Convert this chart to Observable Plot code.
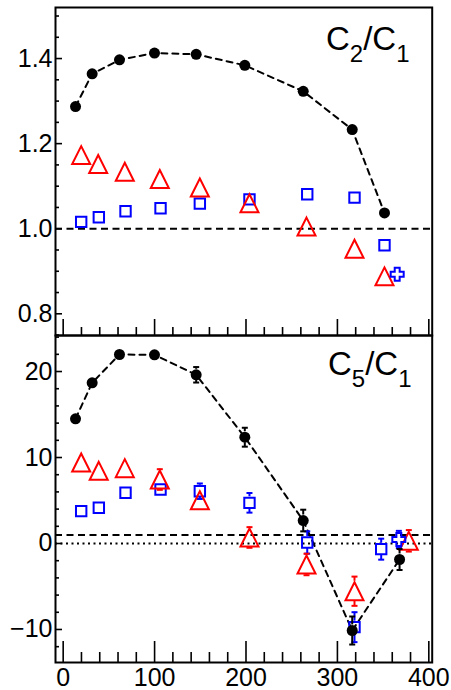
<!DOCTYPE html>
<html><head><meta charset="utf-8">
<script src="https://cdn.jsdelivr.net/npm/d3@7"></script>
<script src="https://cdn.jsdelivr.net/npm/@observablehq/plot@0.6"></script>
<style>
html,body{margin:0;padding:0;background:#fff;}
#chart{position:relative;width:451px;height:690px;overflow:hidden;background:#fff;}
#chart svg{position:absolute;left:0;}
</style></head><body><div id="chart"></div>
<script>
// ---------- data: top panel (C2/C1) ----------
const xBlackTop = [13.5, 31.7, 61.6, 99.9, 145.5, 198.7, 262.6, 316.2, 351.5];
const yBlackTop = [1.287, 1.364, 1.397, 1.413, 1.410, 1.384, 1.323, 1.233, 1.037];
const xRedTop   = [19.7, 38.3, 67.4, 105.7, 149.5, 203.8, 266.2, 318.7, 351.5];
const yRedTop   = [1.173, 1.152, 1.134, 1.117, 1.097, 1.060, 1.005, 0.953, 0.888];
const xBlueTop  = [19.7, 39.0, 68.2, 106.5, 149.5, 203.8, 267.0, 318.7, 351.5];
const yBlueTop  = [1.016, 1.027, 1.041, 1.048, 1.059, 1.069, 1.081, 1.073, 0.961];
const xCrossTop = [365.4];
const yCrossTop = [0.893];

// ---------- data: bottom panel (C5/C1) ----------
const xBlackBot = [13.5, 31.7, 61.6, 99.9, 145.5, 198.7, 262.6, 316.2, 368.0];
const yBlackBot = [14.5, 18.69, 21.98, 21.94, 19.62, 12.36, 2.67, -10.12, -1.86];
const eBlackBot = [0, 0, 0, 0, 0.9, 1.1, 1.26, 1.63, 1.22];
const xRedBot   = [19.7, 38.9, 67.4, 105.7, 149.5, 203.8, 266.2, 318.7, 378.1];
const yRedBot   = [9.42, 8.45, 8.76, 7.44, 5.03, 0.70, -2.44, -5.55, 0.31];
const eRedBot   = [0, 0, 0, 1.2, 0, 1.2, 1.25, 1.7, 1.25];
const xBlueBot  = [19.7, 39.0, 68.2, 106.5, 149.5, 203.8, 267.0, 318.7, 347.9];
const yBlueBot  = [3.76, 4.15, 5.90, 6.28, 6.08, 4.73, 0.12, -9.73, -0.66];
const eBlueBot  = [0, 0, 0, 0, 0.9, 1.14, 1.3, 1.74, 1.22];
const xCrossBot = [367.2];
const yCrossBot = [0.47];
const eCrossBot = [1.0];

// ---------- axes ----------
const xDomain = [-8.4, 403.7];
const xMajor = [0, 100, 200, 300, 400];
const xMinor = [20, 40, 60, 80, 120, 140, 160, 180, 220, 240, 260, 280, 320, 340, 360, 380];
const yTopDomain = [0.749, 1.52];
const yTopMajor = [0.8, 1.0, 1.2, 1.4];
const yTopMinor = [0.75, 0.85, 0.9, 0.95, 1.05, 1.1, 1.15, 1.25, 1.3, 1.35, 1.45, 1.5];
const yBotDomain = [-13.84, 24.19];
const yBotMajor = [-10, 0, 10, 20];
const yBotMinor = [-12, -8, -6, -4, -2, 2, 4, 6, 8, 12, 14, 16, 18, 22, 24];
const labelTop = ["C", "2", "/C", "1"];
const labelBot = ["C", "5", "/C", "1"];

const rows = (xs, ys, es) => xs.map((x, i) => ({x, y: ys[i], e: es ? es[i] : 0}));

// ---------- marker symbols ----------
const triSym = {draw(c, s) { const r = Math.sqrt(s / Math.PI); c.moveTo(0, -r); c.lineTo(r, r); c.lineTo(-r, r); c.closePath(); }};
const sqSym = {draw(c, s) { const r = Math.sqrt(s / Math.PI); c.moveTo(-r, -r); c.lineTo(r, -r); c.lineTo(r, r); c.lineTo(-r, r); c.closePath(); }};
const crossSym = {draw(c, s) { const r = Math.sqrt(s / Math.PI), a = r * 0.38;
  c.moveTo(-a, -r); c.lineTo(a, -r); c.lineTo(a, -a); c.lineTo(r, -a); c.lineTo(r, a); c.lineTo(a, a);
  c.lineTo(a, r); c.lineTo(-a, r); c.lineTo(-a, a); c.lineTo(-r, a); c.lineTo(-r, -a); c.lineTo(-a, -a); c.closePath(); }};
const capSym = {draw(c, s) { const r = Math.sqrt(s / Math.PI); c.moveTo(-r, 0); c.lineTo(r, 0); }};

const RED = "#ff0000", BLUE = "#0000ff";
const font = "'Liberation Sans', Arial, Helvetica, sans-serif";
const curve = "linear";

function errMarks(data, color, h) {
  const vis = data.filter(d => d.e > 0);
  return [
    Plot.ruleX(vis, {x: "x", y1: d => d.y + d.e, y2: "y", insetBottom: h, stroke: color, strokeWidth: 2}),
    Plot.ruleX(vis, {x: "x", y1: "y", y2: d => d.y - d.e, insetTop: h, stroke: color, strokeWidth: 2}),
    Plot.dot(vis, {x: "x", y: d => d.y + d.e, symbol: capSym, r: 3, stroke: color, strokeWidth: 2, fill: "none"}),
    Plot.dot(vis, {x: "x", y: d => d.y - d.e, symbol: capSym, r: 3, stroke: color, strokeWidth: 2, fill: "none"})
  ];
}

function axes(yMajor, yMinor, yFmt, xMajorLen, xMinorLen, xLabels) {
  const m = [
    Plot.axisY({ticks: yMajor, tickSize: -7, strokeWidth: 1.6, fill: "none", tickFormat: () => "", label: null}),
    Plot.axisY({ticks: yMinor, tickSize: -4, strokeWidth: 1.6, fill: "none", tickFormat: () => "", label: null}),
    Plot.axisY({ticks: yMajor, tickSize: 0, tickPadding: 3, tickFormat: yFmt, label: null}),
    Plot.axisX({ticks: xMajor, tickSize: -xMajorLen, strokeWidth: 1.6, fill: "none", tickFormat: () => "", label: null}),
    Plot.axisX({ticks: xMinor, tickSize: -xMinorLen, strokeWidth: 1.6, fill: "none", tickFormat: () => "", label: null})
  ];
  if (xLabels) m.push(Plot.axisX({ticks: xMajor, tickSize: 0, tickPadding: 6, tickFormat: d3.format("d"), label: null}));
  return m;
}

const style = {fontFamily: font, fontSize: "25px", background: "transparent", overflow: "visible"};

const blackTop = rows(xBlackTop, yBlackTop), redTop = rows(xRedTop, yRedTop),
      blueTop = rows(xBlueTop, yBlueTop), crossTop = rows(xCrossTop, yCrossTop);

const topPlot = Plot.plot({
  width: 451, height: 337, marginLeft: 55, marginRight: 19.3, marginTop: 7, marginBottom: 2,
  x: {domain: xDomain}, y: {domain: yTopDomain}, style,
  marks: [
    Plot.ruleY([1], {stroke: "black", strokeWidth: 2, strokeDasharray: "7,4.5"}),
    Plot.line(blackTop, {x: "x", y: "y", curve, stroke: "black", strokeWidth: 2, strokeDasharray: "6,5"}),
    Plot.dot(blueTop, {x: "x", y: "y", symbol: sqSym, r: 5.2, stroke: BLUE, strokeWidth: 2, fill: "none"}),
    Plot.dot(redTop, {x: "x", y: "y", symbol: triSym, r: 9, stroke: RED, strokeWidth: 2, fill: "none"}),
    Plot.dot(crossTop, {x: "x", y: "y", symbol: crossSym, r: 6.5, stroke: BLUE, strokeWidth: 2, fill: "none"}),
    Plot.dot(blackTop, {x: "x", y: "y", r: 5.5, fill: "black"}),
    ...axes(yTopMajor, yTopMinor, d3.format(".1f"), 16, 8, false),
    Plot.frame({stroke: "black", strokeWidth: 2})
  ]
});

const blackBot = rows(xBlackBot, yBlackBot, eBlackBot), redBot = rows(xRedBot, yRedBot, eRedBot),
      blueBot = rows(xBlueBot, yBlueBot, eBlueBot), crossBot = rows(xCrossBot, yCrossBot, eCrossBot);

const botPlot = Plot.plot({
  width: 451, height: 356, marginLeft: 55, marginRight: 19.3, marginTop: 1, marginBottom: 28,
  x: {domain: xDomain}, y: {domain: yBotDomain}, style,
  marks: [
    Plot.ruleY([1], {stroke: "black", strokeWidth: 2, strokeDasharray: "7,4.5"}),
    Plot.ruleY([0], {stroke: "black", strokeWidth: 2, strokeDasharray: "2,3.5"}),
    Plot.line(blackBot, {x: "x", y: "y", curve, stroke: "black", strokeWidth: 2, strokeDasharray: "6,5"}),
    ...errMarks(blueBot, BLUE, 6),
    Plot.dot(blueBot, {x: "x", y: "y", symbol: sqSym, r: 5.2, stroke: BLUE, strokeWidth: 2, fill: "none"}),
    ...errMarks(redBot, RED, 10),
    Plot.dot(redBot, {x: "x", y: "y", symbol: triSym, r: 9, stroke: RED, strokeWidth: 2, fill: "none"}),
    ...errMarks(crossBot, BLUE, 7),
    Plot.dot(crossBot, {x: "x", y: "y", symbol: crossSym, r: 6.5, stroke: BLUE, strokeWidth: 2, fill: "none"}),
    ...errMarks(blackBot, "black", 5.5),
    Plot.dot(blackBot, {x: "x", y: "y", r: 5.5, fill: "black"}),
    ...axes(yBotMajor, yBotMinor, d3.format("d"), 21, 10, true),
    Plot.frame({stroke: "black", strokeWidth: 2})
  ]
});

function addLabel(svg, x, y, parts) {
  const t = d3.select(svg).append("text").attr("x", x).attr("y", y)
    .attr("text-anchor", "start")
    .attr("font-family", font).attr("font-size", 33).attr("fill", "black");
  t.append("tspan").text(parts[0]);
  t.append("tspan").attr("font-size", 24).attr("dy", 12).text(parts[1]);
  t.append("tspan").attr("dy", -12).text(parts[2]);
  t.append("tspan").attr("font-size", 24).attr("dy", 12).text(parts[3]);
}
addLabel(topPlot, 326, 50, labelTop);
addLabel(botPlot, 328, 41, labelBot);

const chart = document.getElementById("chart");
topPlot.style.top = "0px";
botPlot.style.top = "334px";
chart.appendChild(topPlot);
chart.appendChild(botPlot);
</script></body></html>
